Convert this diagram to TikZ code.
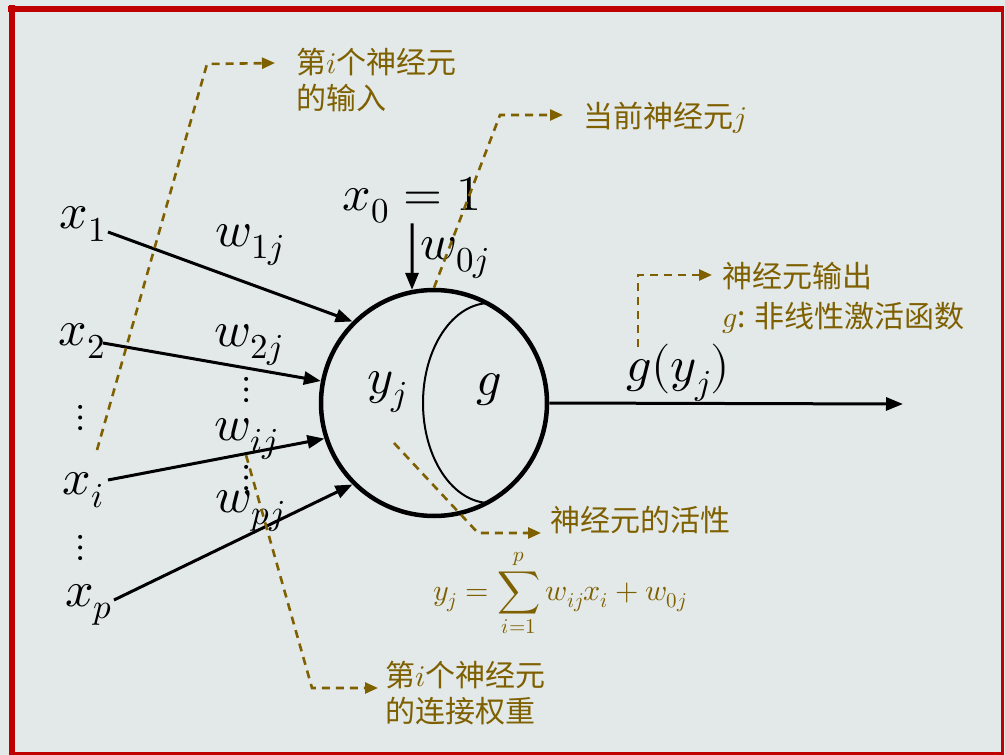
\documentclass[tikz,border=0pt]{standalone}
\usepackage{fontspec}
\usepackage{unicode-math}
\setmathfont{Latin Modern Math}
\newfontfamily\cjk{Noto Sans CJK SC}
\usetikzlibrary{arrows.meta}
\definecolor{bgc}{HTML}{E3E9E9}
\definecolor{olivec}{HTML}{7F6000}
\definecolor{framec}{HTML}{C00000}
\tikzset{
  mathlbl/.style={inner sep=0pt, font=\fontsize{50}{60}\selectfont},
  dotlbl/.style={inner sep=0pt, font=\fontsize{38}{40}\selectfont},
  cjklbl/.style={inner sep=0pt, text=olivec, font=\fontsize{30}{36}\selectfont\cjk, align=left},
  wire/.style={line width=3pt, -{Triangle[length=17pt,width=13pt]}},
  hint/.style={olivec, line width=2.6pt, dash pattern=on 8pt off 6pt, -{Triangle[length=13pt,width=11pt]}},
}
\begin{document}
\begin{tikzpicture}[x=1pt,y=-1pt]
\useasboundingbox (0,0) rectangle (1005,755);
\fill[bgc] (0,0) rectangle (1005,755);
% frame
\draw[framec, line width=6pt] (8,8.5) -- (1004,8.5);
\draw[framec, line width=6pt] (11.5,5) -- (11.5,755);
\draw[framec, line width=2.5pt] (1002.5,6) -- (1002.5,755);
\draw[framec, line width=2.5pt] (9,753.5) -- (1004,753.5);

% neuron
\node[circle, draw, line width=4.5pt, minimum size=226pt, inner sep=0pt] (N) at (434,403) {};
\begin{scope}
  \clip (434,403) circle (111);
  \draw[line width=2pt] (490,403) ellipse (67 and 100);
\end{scope}
\node[mathlbl] (yj) at (387,392) {$y_j$};
\node[mathlbl] (g) at (489,390) {$g$};

% inputs
\node[mathlbl] (x1) at (83,224) {$x_1$};
\node[mathlbl] (x2) at (82,341) {$x_2$};
\node[mathlbl] (xi) at (83,490) {$x_i$};
\node[mathlbl] (xp) at (89,605) {$x_p$};
\node[dotlbl] (d1) at (81,418) {$\vdots$};
\node[dotlbl] (d2) at (81,548) {$\vdots$};

\node[mathlbl] (w1) at (250,245) {$w_{1j}$};
\node[mathlbl] (w2) at (249,345) {$w_{2j}$};
\node[mathlbl] (wi) at (246,439) {$w_{ij}$};
\node[mathlbl] (wp) at (250,511) {$w_{pj}$};
\node[dotlbl] (d3) at (247,390) {$\vdots$};
\node[dotlbl] (d4) at (247,478) {$\vdots$};

\node[mathlbl] (x0) at (412,200) {$x_0=1$};
\node[mathlbl] (w0) at (455,258) {$w_{0j}$};

\node[mathlbl] (gy) at (678,373) {$g(y_j)$};
\coordinate (out) at (903,404);

% connectors
\draw[wire] (108,232) coordinate (s1) -- (N.135);
\draw[wire] (103,343) coordinate (s2) -- (N.169);
\draw[wire] (108,480) coordinate (s3) -- (N.198);
\draw[wire] (114,600) coordinate (s4) -- (N.225);
\draw[wire] (x0.south) -- (N.101);
\draw[wire] (N.east) -- (out);

% annotations
\node[cjklbl, anchor=north west] (L1) at (296,48) {第$i$个神经元\\的输入};
\node[cjklbl, anchor=base west] (L2) at (583,127) {当前神经元$j$};
\node[cjklbl, anchor=north west, font=\fontsize{30}{40}\selectfont\cjk] (L3) at (722,262) {神经元输出\\$g$: 非线性激活函数};
\node[cjklbl, anchor=base west] (L4) at (550,531) {神经元的活性};
\node[cjklbl, anchor=north west] (L5) at (385,661) {第$i$个神经元\\的连接权重};
\node[inner sep=0pt, text=olivec, font=\fontsize{30}{36}\selectfont] (F) at (560,593) {$\displaystyle y_j=\sum_{i=1}^{p} w_{ij}x_i+w_{0j}$};

\coordinate (h1s) at (97,450);
\coordinate (h1t) at (275,63);
\draw[hint] (h1s) -- (207,64) -- (h1t);
\coordinate (h2t) at (563,115);
\draw[hint] (N.north) -- (500,115) -- (h2t);
\coordinate (h3s) at (394,443);
\coordinate (h3t) at (541,533);
\draw[hint] (h3s) -- (478,533) -- (h3t);
\coordinate (h4s) at (638,347);
\coordinate (h4t) at (712,275);
\draw[hint] (h4s) -- (638,275) -- (h4t);
\coordinate (h5s) at (246,455);
\coordinate (h5t) at (378,688);
\draw[hint] (h5s) -- (312,688) -- (h5t);
\end{tikzpicture}
\end{document}
